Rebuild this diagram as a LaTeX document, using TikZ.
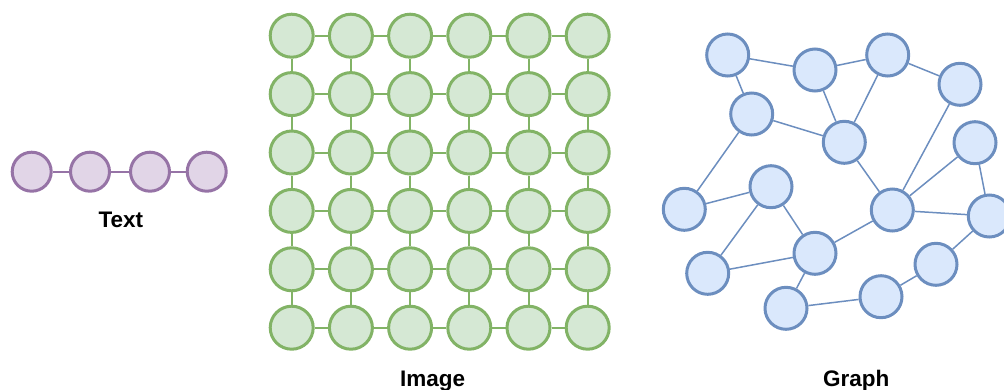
\documentclass[tikz,border=0pt]{standalone}
\usepackage{fontspec}
\setmainfont{Liberation Sans}
\usetikzlibrary{positioning}
\definecolor{txtline}{HTML}{9673A6}
\definecolor{txtfill}{HTML}{E1D5E7}
\definecolor{imgline}{HTML}{82B366}
\definecolor{imgfill}{HTML}{D5E8D4}
\definecolor{grline}{HTML}{6C8EBF}
\definecolor{grfill}{HTML}{DAE8FC}
\tikzset{
  txtnode/.style={circle, draw=txtline, fill=txtfill, line width=3pt, minimum size=39pt, inner sep=0pt},
  imgnode/.style={circle, draw=imgline, fill=imgfill, line width=3pt, minimum size=43pt, inner sep=0pt},
  grnode/.style={circle, draw=grline, fill=grfill, line width=3pt, minimum size=42pt, inner sep=0pt},
  caption/.style={font=\fontsize{22.5}{26}\selectfont\bfseries, inner sep=0pt, anchor=base}
}
\begin{document}
\begin{tikzpicture}[x=1pt, y=-1pt]
                \useasboundingbox (0,0) rectangle (1004,389);
                % text: a chain
                \foreach \k/\px in {1/31.7, 2/90, 3/150, 4/206.7}
                    \node[txtnode](t\k) at (\px,171.7){};
                \draw[txtline, line width=2pt] (t1) -- (t2) -- (t3) -- (t4);
                \node[caption] (tlabel) at (120.8,227.5) {Text};
                % image: a grid
                \foreach \i in {0,...,5}
                    \foreach \j in {0,...,5}
                        \node[imgnode](g\i\j) at (291.7+59.2*\i, 35.7+58.4*\j){};
                \foreach \i in {0,...,5}
                    \foreach \j in {0,...,4}{
                        \pgfmathtruncatemacro{\n}{\j+1}
                        \draw[imgline, line width=2pt] (g\i\j) -- (g\i\n);
                        \draw[imgline, line width=2pt] (g\j\i) -- (g\n\i);
                    }
                \node[caption] (ilabel) at (432.7,386.3) {Image};
                % graph
                \node[grnode](a) at (727.7,55){};
                \node[grnode](b) at (815,70){};
                \node[grnode](c) at (887.7,55){};
                \node[grnode](d) at (960,84.3){};
                \node[grnode](e) at (751.7,114){};
                \node[grnode](f) at (844.3,142.3){};
                \node[grnode](g) at (975,142.7){};
                \node[grnode](h) at (684.3,209.3){};
                \node[grnode](i) at (771,186.7){};
                \node[grnode](j) at (892.3,210){};
                \node[grnode](k) at (989.3,216){};
                \node[grnode](l) at (815,253.3){};
                \node[grnode](m) at (707.7,273.3){};
                \node[grnode](n) at (936,264.3){};
                \node[grnode](o) at (786,308.3){};
                \node[grnode](p) at (881,296.7){};
                \foreach \u/\v in {a/b, a/e, b/c, b/f, c/f, c/d, e/f, e/h, d/j, g/j, g/k, f/j,
                                   h/i, i/m, i/l, m/l, j/k, j/l, l/o, o/p, p/n, n/k}
                    \draw[grline, line width=1.5pt] (\u) -- (\v);
                \node[caption] (glabel) at (856.3,386.8) {Graph};
            \end{tikzpicture}
\end{document}
